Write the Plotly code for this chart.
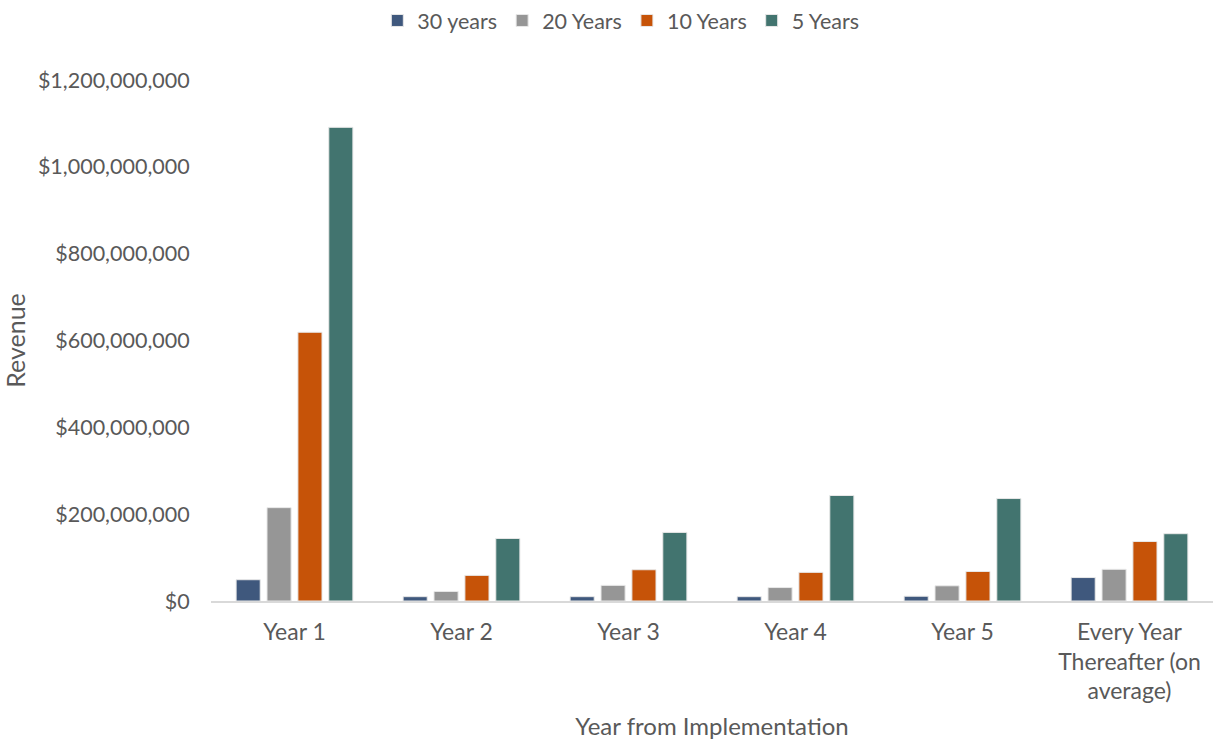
import plotly.graph_objects as go

categories = ["Year 1", "Year 2", "Year 3", "Year 4", "Year 5",
              "Every Year<br>Thereafter (on<br>average)"]
series_names = ["30 years", "20 Years", "10 Years", "5 Years"]
v30 = [49e6, 10e6, 10e6, 10e6, 11e6, 54e6]
v20 = [215e6, 22e6, 36e6, 31e6, 35e6, 73e6]
v10 = [619e6, 59e6, 72e6, 66e6, 68e6, 137e6]
v5 = [1091e6, 144e6, 158e6, 243e6, 236e6, 155e6]
colors = ["#3F587D", "#969696", "#C65308", "#42746F"]

fig = go.Figure()
for name, vals, c in zip(series_names, [v30, v20, v10, v5], colors):
    fig.add_trace(go.Bar(x=categories, y=vals, name=name, marker_color=c,
                         marker_line_color="#E8E8E8", marker_line_width=1))

font = "Lato, 'Open Sans', sans-serif"
fig.update_layout(
    width=1213, height=740,
    plot_bgcolor="white", paper_bgcolor="white",
    margin=dict(l=211, r=0, t=80, b=139),
    barmode="group", bargap=0.26, bargroupgap=0.22,
    font=dict(family=font, color="#595959", size=21),
    legend=dict(orientation="h", x=0.409, xanchor="center", y=1.0, yanchor="top",
                yref="container", font=dict(size=21.5), traceorder="normal",
                itemwidth=30),
    xaxis=dict(title=dict(text="Year from Implementation", font=dict(size=24), standoff=18),
               showline=True, linecolor="#D9D9D9", linewidth=2,
               ticks="outside", ticklen=9, tickcolor="rgba(0,0,0,0)",
               tickfont=dict(size=23)),
    yaxis=dict(title=dict(text="Revenue", font=dict(size=25), standoff=14),
               range=[0, 1.2e9], dtick=2e8, tickprefix="$", tickformat=",.0f",
               ticks="outside", ticklen=16, tickcolor="rgba(0,0,0,0)",
               showgrid=False, zeroline=False, tickfont=dict(size=21.5)),
)
fig.write_html("out.html")
